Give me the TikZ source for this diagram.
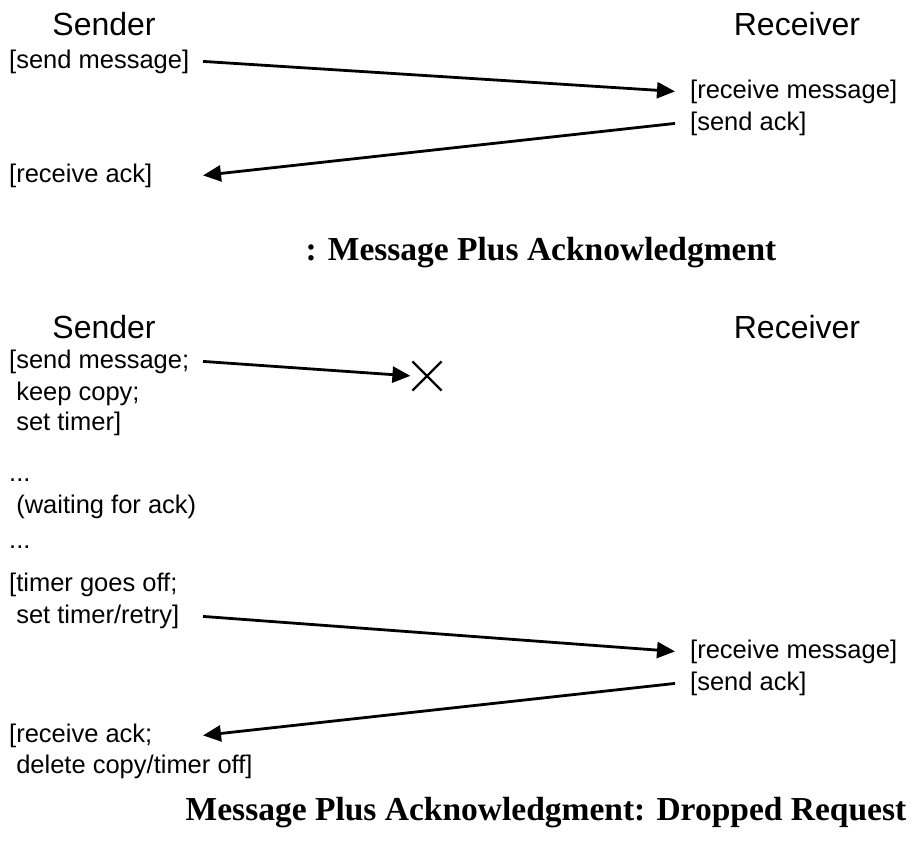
\documentclass[tikz,border=0pt]{standalone}
\usepackage{fontspec}
\newfontfamily\helv{Liberation Sans}
\newfontfamily\capserif{Liberation Serif}
\usepackage{tikz}
\usetikzlibrary{arrows.meta,shapes.misc}

\begin{document}
\begin{tikzpicture}[x=1pt,y=-1pt]

%
% Styles
%
\tikzstyle{party}   = [anchor=base,inner sep=0pt,font=\helv\fontsize{32}{36}\selectfont]
\tikzstyle{event}   = [anchor=base west,inner sep=2pt,font=\helv\fontsize{25.5}{30}\selectfont]
\tikzstyle{msg}     = [-{Triangle[length=18pt,width=16pt]},line width=2.8pt]
\tikzstyle{caption} = [anchor=base,inner sep=0pt,font=\capserif\bfseries\fontsize{33.5}{38}\selectfont]

\useasboundingbox (0,0) rectangle (920,849);

% lanes where the messages start and end
\coordinate (slane) at (203,0);
\coordinate (rlane) at (675,0);

% plain exchange
\node[party] (s1) at (104,35) {Sender};
\node[party] (r1) at (797,35) {Receiver};

\node[event] (sm1) at (7,68)    {[send message]};
\node[event] (rm1) at (688,98)  {[receive message]};
\node[event] (sa1) at (688,130) {[send ack]};
\node[event] (ra1) at (7,182)   {[receive ack]};

\draw[msg] (slane |- sm1) -- (rlane |- rm1);
\draw[msg] (rlane |- sa1) -- (slane |- ra1);

\node[caption] (cap1) at (541,260) {: Message Plus Acknowledgment};

% dropped request
\node[party] (s2) at (104,338) {Sender};
\node[party] (r2) at (797,338) {Receiver};

\node[event] (sm2) at (7,368) {[send message;};
\node[event] (kc2) at (7,400) {\ keep copy;};
\node[event] (st2) at (7,430) {\ set timer]};
\node[draw,cross out,line width=2.2pt,minimum size=27pt,inner sep=0pt] (lost) at (427,376) {};

\node[event] (d1) at (7,481) {...};
\node[event] (wt) at (7,513) {\ (waiting for ack)};
\node[event] (d2) at (7,548) {...};

\node[event] (tg2) at (7,591) {[timer goes off;};
\node[event] (rt2) at (7,623) {\ set timer/retry]};
\node[event] (rm2) at (688,658) {[receive message]};
\node[event] (sa2) at (688,690) {[send ack]};
\node[event] (ra2) at (7,742) {[receive ack;};
\node[event] (dc2) at (7,773) {\ delete copy/timer off]};

\draw[msg,shorten >=2pt] (slane |- sm2) -- (lost.west);
\draw[msg] (slane |- rt2) -- (rlane |- rm2);
\draw[msg] (rlane |- sa2) -- (slane |- ra2);

\node[caption] (cap2) at (546,820) {Message Plus Acknowledgment: Dropped Request};

\end{tikzpicture}
\end{document}
